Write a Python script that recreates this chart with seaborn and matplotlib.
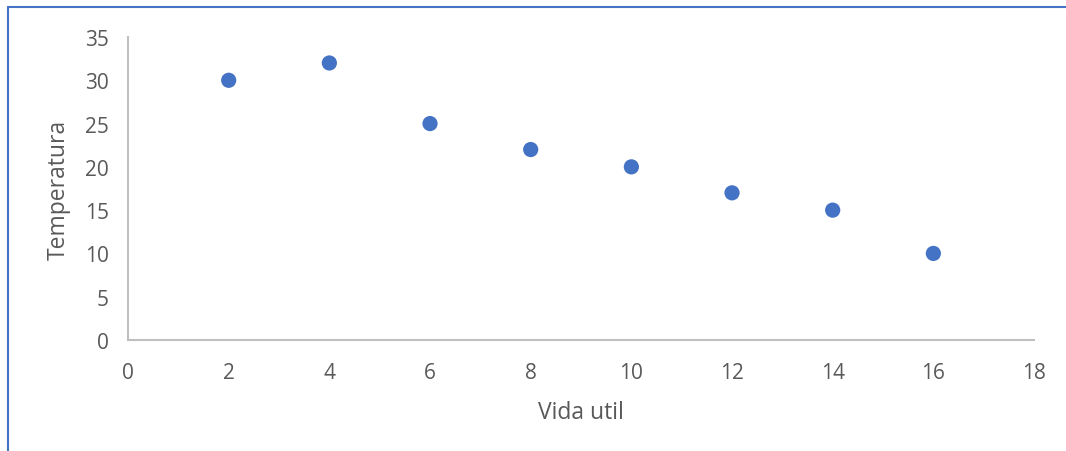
import matplotlib
matplotlib.use("Agg")
import matplotlib.pyplot as plt
from matplotlib.lines import Line2D
import seaborn as sns
import pandas as pd

vida_util = [2, 4, 6, 8, 10, 12, 14, 16]
temperatura = [30, 32, 25, 22, 20, 17, 15, 10]
x_ticks = [0, 2, 4, 6, 8, 10, 12, 14, 16, 18]
y_ticks = [0, 5, 10, 15, 20, 25, 30, 35]

sns.set_theme(style="white")
plt.rcParams["font.family"] = ["Open Sans", "DejaVu Sans"]

df = pd.DataFrame({"Vida util": vida_util, "Temperatura": temperatura})

fig = plt.figure(figsize=(10.66, 4.52), dpi=100)
ax = fig.add_axes([0.1201, 0.2456, 0.8499, 0.6703])

sns.scatterplot(data=df, x="Vida util", y="Temperatura", ax=ax,
                color="#4472C4", s=120, edgecolor="none", clip_on=False)

ax.set_xlim(0, 18)
ax.set_ylim(0, 35)
ax.set_xticks(x_ticks)
ax.set_yticks(y_ticks)
ax.tick_params(axis="both", length=0, labelsize=15, colors="#595959")
ax.tick_params(axis="x", pad=16)
ax.tick_params(axis="y", pad=14)

for side in ["top", "right"]:
    ax.spines[side].set_visible(False)
for side in ["left", "bottom"]:
    ax.spines[side].set_color("#BFBFBF")
    ax.spines[side].set_linewidth(1.5)

ax.set_xlabel("Vida util", fontsize=16.5, color="#595959", labelpad=12)
ax.set_ylabel("Temperatura", fontsize=16.5, color="#595959", labelpad=10)

# chart area frame (top and left edges)
fig.add_artist(Line2D([8 / 1066, 1.0], [1 - 8 / 452, 1 - 8 / 452],
                      transform=fig.transFigure, color="#4472C4", lw=1.5))
fig.add_artist(Line2D([8 / 1066, 8 / 1066], [0.0, 1 - 8 / 452],
                      transform=fig.transFigure, color="#4472C4", lw=1.5))

fig.savefig("out.png", dpi=100)
